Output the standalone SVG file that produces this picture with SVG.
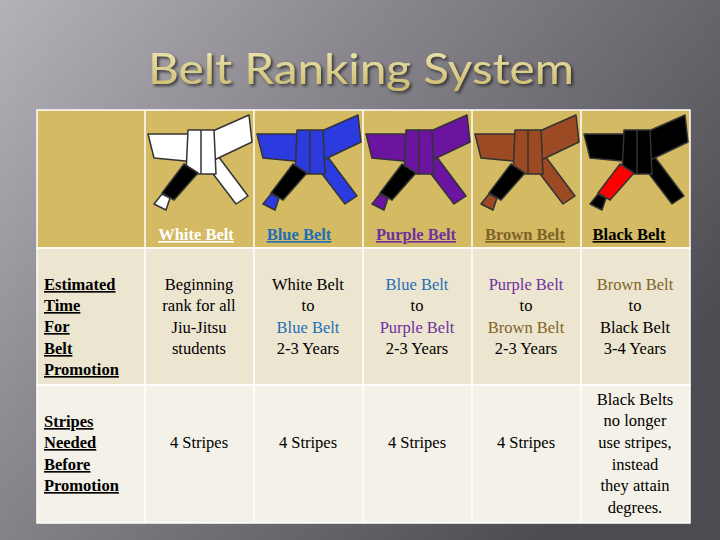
<svg xmlns="http://www.w3.org/2000/svg" width="720" height="540" viewBox="0 0 720 540">
<defs>
<linearGradient id="bg" x1="0" y1="0" x2="1" y2="0.6">
<stop offset="0" stop-color="#b4b2b8"/><stop offset="0.35" stop-color="#8e8c92"/><stop offset="1" stop-color="#4c4b51"/>
</linearGradient>
<linearGradient id="tg" x1="0" y1="0" x2="0" y2="1">
<stop offset="0" stop-color="#f4ecb8"/><stop offset="1" stop-color="#c9b86a"/>
</linearGradient>
<filter id="sh"><feDropShadow dx="2" dy="2" stdDeviation="1.5" flood-color="#222" flood-opacity="0.8"/></filter>
<symbol id="belt" viewBox="0 0 108 100" overflow="visible">
<g stroke="#333" stroke-width="1.5" stroke-linejoin="round">
<polygon points="58,50 72,44 102,84 90,92" fill="currentColor"/>
<polygon points="2,22 45,22 50,50 8,46" fill="currentColor"/>
<polygon points="60,22 103,3 106,30 64,50" fill="currentColor"/>
<polygon points="42,18 68,18 70,62 40,62" fill="currentColor"/>
<line x1="55" y1="18" x2="55" y2="62"/>
<polygon points="16,82 24,86 20,98 8,92" fill="currentColor"/>
</g>
</symbol>
<style>
.t{font-family:"Liberation Serif","DejaVu Serif",serif;font-size:16.5px;text-anchor:middle;fill:#000}
.h{font-family:"Liberation Serif","DejaVu Serif",serif;font-size:16.5px;font-weight:bold;text-decoration:underline}
.l{font-family:"Liberation Serif","DejaVu Serif",serif;font-size:16.5px;font-weight:bold;text-decoration:underline;fill:#000}
.bar{stroke:#333;stroke-width:1.5}
</style>
</defs>
<rect width="720" height="540" fill="url(#bg)"/>
<text x="361" y="84" text-anchor="middle" font-family="Lato, sans-serif" font-size="43" textLength="426" lengthAdjust="spacingAndGlyphs" fill="url(#tg)" filter="url(#sh)">Belt Ranking System</text>
<g id="table" stroke="#fff" stroke-width="1.5">
<rect x="37" y="110" width="653" height="138" fill="#d3ba63"/>
<rect x="37" y="248" width="653" height="137" fill="#ece5d0"/>
<rect x="37" y="385" width="653" height="138" fill="#f4f1e8"/>
<line x1="145" y1="110" x2="145" y2="523"/><line x1="254" y1="110" x2="254" y2="523"/>
<line x1="363" y1="110" x2="363" y2="523"/><line x1="472" y1="110" x2="472" y2="523"/>
<line x1="581" y1="110" x2="581" y2="523"/>
</g>
<g id="white-belt">
<use href="#belt" x="146" y="112" width="108" height="100" color="#fff"/>
<polygon class="bar" points="184,164 198,173 174,200 162,193" fill="#000"/>
<text class="h" x="196" y="240" text-anchor="middle" fill="#fff">White Belt</text>
</g>
<g id="blue-belt">
<use href="#belt" x="255" y="112" width="108" height="100" color="#2b3be0"/>
<polygon class="bar" points="293,164 307,173 283,200 271,193" fill="#000"/>
<text class="h" x="299" y="240" text-anchor="middle" fill="#1f6fb5">Blue Belt</text>
</g>
<g id="purple-belt">
<use href="#belt" x="364" y="112" width="108" height="100" color="#6a14a0"/>
<polygon class="bar" points="402,164 416,173 392,200 380,193" fill="#000" stroke="#eee"/>
<text class="h" x="416" y="240" text-anchor="middle" fill="#7030a0">Purple Belt</text>
</g>
<g id="brown-belt">
<use href="#belt" x="473" y="112" width="108" height="100" color="#9c4a24"/>
<polygon class="bar" points="511,164 525,173 501,200 489,193" fill="#000"/>
<text class="h" x="525" y="240" text-anchor="middle" fill="#7f6326">Brown Belt</text>
</g>
<g id="black-belt">
<use href="#belt" x="582" y="112" width="108" height="100" color="#000"/>
<polygon class="bar" points="620,164 634,173 610,200 598,193" fill="#f00" stroke="#eee"/>
<text class="h" x="629" y="240" text-anchor="middle" fill="#000">Black Belt</text>
</g>
<g id="row-time">
<text class="l" x="44" y="290">Estimated</text><text class="l" x="44" y="311">Time</text><text class="l" x="44" y="332">For</text><text class="l" x="44" y="354">Belt</text><text class="l" x="44" y="375">Promotion</text>
<text class="t" x="199" y="290">Beginning</text><text class="t" x="199" y="311">rank for all</text><text class="t" x="199" y="333">Jiu-Jitsu</text><text class="t" x="199" y="354">students</text>
<text class="t" x="308" y="290">White Belt</text><text class="t" x="308" y="311">to</text><text class="t" x="308" y="333" style="fill:#1f6fb5">Blue Belt</text><text class="t" x="308" y="354">2-3 Years</text>
<text class="t" x="417" y="290" style="fill:#1f6fb5">Blue Belt</text><text class="t" x="417" y="311">to</text><text class="t" x="417" y="333" style="fill:#7030a0">Purple Belt</text><text class="t" x="417" y="354">2-3 Years</text>
<text class="t" x="526" y="290" style="fill:#7030a0">Purple Belt</text><text class="t" x="526" y="311">to</text><text class="t" x="526" y="333" style="fill:#7f6326">Brown Belt</text><text class="t" x="526" y="354">2-3 Years</text>
<text class="t" x="635" y="290" style="fill:#7f6326">Brown Belt</text><text class="t" x="635" y="311">to</text><text class="t" x="635" y="333">Black Belt</text><text class="t" x="635" y="354">3-4 Years</text>
</g>
<g id="row-stripes">
<text class="l" x="44" y="427">Stripes</text><text class="l" x="44" y="448">Needed</text><text class="l" x="44" y="470">Before</text><text class="l" x="44" y="491">Promotion</text>
<text class="t" x="199" y="448">4 Stripes</text><text class="t" x="308" y="448">4 Stripes</text><text class="t" x="417" y="448">4 Stripes</text><text class="t" x="526" y="448">4 Stripes</text>
<text class="t" x="635" y="405">Black Belts</text><text class="t" x="635" y="426">no longer</text><text class="t" x="635" y="448">use stripes,</text><text class="t" x="635" y="470">instead</text><text class="t" x="635" y="491">they attain</text><text class="t" x="635" y="513">degrees.</text>
</g>
</svg>
